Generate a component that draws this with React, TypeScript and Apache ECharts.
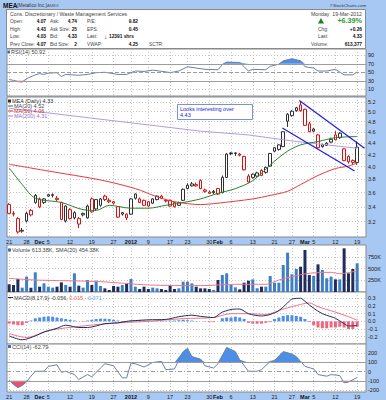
import React, { useEffect, useRef } from 'react';
import * as echarts from 'echarts';

const FONT = '"Liberation Sans", Arial, Helvetica, sans-serif';

// ---- x-axis (trading-day index) labels ----
const labelIdx = [0, 4, 7, 9, 14, 19, 24, 28, 32, 37, 41, 46, 48, 51, 56, 61, 65, 68, 70, 75, 80];
const labelText = ['21', '28', 'Dec', '5', '12', '19', '27', '2012', '9', '17', '23', '30', 'Feb', '6', '13', '21', '27', 'Mar', '5', '12', '19'];
const monthLabels = ['Dec', '2012', 'Feb', 'Mar'];
const gridIdx = [0, 4, 9, 14, 19, 24, 28, 32, 37, 41, 46, 51, 56, 61, 65, 70, 75, 80];

// ---- daily prices (Nov 21 2011 .. Mar 19 2012) ----
const opens = [3.43, 3.31, 3.24, 3.09, 3.21, 3.35, 3.46, 3.51, 3.46, 3.57, 3.57, 3.50, 3.46, 3.21, 3.36, 3.25, 3.17, 3.31, 3.25, 3.51, 3.37, 3.42, 3.55, 3.47, 3.47, 3.40, 3.30, 3.25, 3.30, 3.58, 3.46, 3.49, 3.47, 3.45, 3.50, 3.55, 3.49, 3.49, 3.46, 3.42, 3.49, 3.66, 3.70, 3.70, 3.78, 3.64, 3.61, 3.62, 3.66, 3.60, 3.83, 4.23, 4.23, 4.21, 4.17, 3.85, 3.83, 3.85, 3.94, 3.91, 4.01, 4.26, 4.29, 4.34, 4.81, 4.92, 5.02, 5.14, 5.05, 4.76, 4.66, 4.55, 4.37, 4.40, 4.42, 4.55, 4.50, 4.30, 4.17, 4.10, 4.07];
const highs = [3.45, 3.34, 3.26, 3.12, 3.33, 3.37, 3.58, 3.53, 3.52, 3.58, 3.59, 3.55, 3.47, 3.42, 3.38, 3.34, 3.26, 3.32, 3.43, 3.53, 3.51, 3.52, 3.57, 3.52, 3.48, 3.41, 3.33, 3.31, 3.52, 3.59, 3.53, 3.50, 3.48, 3.52, 3.56, 3.57, 3.51, 3.50, 3.47, 3.47, 3.66, 3.74, 3.76, 3.75, 3.80, 3.66, 3.63, 3.64, 3.67, 3.86, 4.23, 4.24, 4.24, 4.23, 4.18, 3.88, 3.89, 3.92, 3.96, 4.00, 4.23, 4.33, 4.38, 4.62, 4.97, 5.03, 5.10, 5.21, 5.06, 4.80, 4.68, 4.57, 4.39, 4.42, 4.50, 4.62, 4.60, 4.31, 4.19, 4.12, 4.43];
const lows = [3.30, 3.27, 3.05, 3.06, 3.19, 3.27, 3.44, 3.38, 3.44, 3.54, 3.53, 3.48, 3.22, 3.19, 3.23, 3.23, 3.12, 3.27, 3.24, 3.32, 3.35, 3.40, 3.48, 3.45, 3.43, 3.25, 3.28, 3.22, 3.29, 3.50, 3.45, 3.41, 3.40, 3.44, 3.49, 3.51, 3.46, 3.40, 3.39, 3.41, 3.48, 3.65, 3.69, 3.69, 3.65, 3.60, 3.58, 3.58, 3.57, 3.59, 3.82, 4.19, 4.18, 4.17, 3.94, 3.75, 3.81, 3.84, 3.85, 3.89, 4.00, 4.24, 4.27, 4.33, 4.70, 4.90, 5.00, 5.00, 4.72, 4.60, 4.60, 4.31, 4.32, 4.35, 4.40, 4.45, 4.48, 4.09, 4.05, 4.03, 4.03];
const closes = [3.31, 3.30, 3.07, 3.08, 3.31, 3.29, 3.56, 3.40, 3.51, 3.55, 3.56, 3.52, 3.23, 3.41, 3.24, 3.32, 3.24, 3.29, 3.41, 3.33, 3.50, 3.51, 3.50, 3.49, 3.45, 3.26, 3.32, 3.30, 3.51, 3.52, 3.51, 3.42, 3.41, 3.51, 3.55, 3.52, 3.48, 3.41, 3.40, 3.46, 3.65, 3.71, 3.73, 3.72, 3.66, 3.62, 3.59, 3.60, 3.58, 3.83, 4.21, 4.22, 4.22, 4.19, 3.95, 3.76, 3.88, 3.90, 3.86, 3.99, 4.22, 4.32, 4.37, 4.61, 4.95, 5.01, 5.08, 5.02, 4.73, 4.61, 4.62, 4.32, 4.34, 4.36, 4.47, 4.46, 4.58, 4.10, 4.08, 4.07, 4.33];
// daily volume, thousands of shares
const volumes = [164, 150, 278, 93, 328, 93, 420, 114, 185, 114, 93, 114, 206, 150, 114, 399, 135, 93, 256, 150, 242, 128, 78, 43, 128, 114, 150, 185, 278, 114, 64, 114, 64, 93, 78, 64, 43, 150, 64, 78, 221, 221, 185, 114, 78, 78, 64, 43, 256, 363, 399, 150, 100, 57, 199, 242, 270, 78, 114, 114, 342, 199, 199, 577, 840, 377, 491, 541, 897, 363, 342, 591, 470, 292, 328, 270, 270, 933, 399, 491, 613];

// ---- overlays: [day index, value] ----
const ma20 = [[0, 3.98], [3, 3.72], [6, 3.52], [12, 3.46], [17, 3.36], [20, 3.35], [23, 3.42], [28, 3.38], [32, 3.38], [36, 3.42], [41, 3.47], [44, 3.51], [48, 3.59], [52, 3.66], [56, 3.78], [61, 4.09], [64, 4.26], [67, 4.37], [71, 4.43], [75, 4.50], [80, 4.52]];
const ma50 = [[0, 4.04], [9, 3.93], [21, 3.79], [29, 3.66], [34, 3.54], [38, 3.47], [44, 3.43], [48, 3.45], [56, 3.51], [60, 3.56], [64, 3.62], [67, 3.72], [71, 3.86], [75, 3.97], [78, 4.01], [80, 4.06]];
const ma200 = [[0, 5.07], [20, 4.86], [44, 4.62], [55, 4.55], [66, 4.43], [72, 4.38], [80, 4.31]];
const trendUpper = [[66.7, 5.23], [81.7, 4.31]];
const trendLower = [[62.8, 4.68], [79.4, 3.93]];
const volSma = [[0, 292], [6, 256], [21, 221], [32, 150], [44, 136], [52, 164], [59, 164], [62, 256], [65, 328], [69, 400], [74, 420], [76, 390], [80, 454]];
const rsi = [[0, 33], [1, 31], [2, 28], [3, 27], [4, 35], [6, 44], [7, 47], [8, 45], [9, 48], [11, 49], [12, 40], [13, 45], [16, 43], [18, 45], [20, 49], [22, 50], [25, 45], [27, 45], [29, 53], [31, 52], [33, 55], [36, 51], [37, 49], [39, 53], [41, 63], [43, 60], [45, 57], [48, 56], [49, 68], [50, 74], [53, 73], [55, 53], [56, 57], [59, 56], [60, 64], [62, 69], [63, 77], [65, 82], [67, 77], [68, 63], [70, 60], [71, 53], [73, 53], [75, 57], [77, 44], [79, 44], [80, 51]];
const macd = [[0, -0.19], [3, -0.24], [6, -0.19], [8, -0.14], [11, -0.09], [13, -0.05], [16, -0.08], [18, -0.08], [20, -0.06], [22, -0.03], [25, -0.02], [27, 0], [29, 0.01], [32, 0.02], [36, 0.025], [39, 0.06], [42, 0.08], [44, 0.065], [47, 0.05], [49, 0.12], [52, 0.16], [53, 0.16], [55, 0.10], [58, 0.07], [60, 0.09], [62, 0.14], [64, 0.24], [65, 0.29], [67, 0.30], [68, 0.26], [70, 0.17], [72, 0.10], [74, 0.06], [75, 0.04], [77, -0.03], [78, -0.06], [80, -0.056]];
const macdSignal = [[0, -0.16], [4, -0.21], [9, -0.12], [17, -0.06], [25, -0.02], [32, 0], [40, 0.035], [47, 0.05], [51, 0.10], [55, 0.10], [59, 0.09], [63, 0.16], [67, 0.22], [69, 0.24], [71, 0.19], [75, 0.12], [78, 0.06], [80, 0.015]];
const macdHist = [-0.03, -0.04, -0.05, -0.05, -0.02, 0.01, 0.04, 0.05, 0.06, 0.065, 0.06, 0.05, 0.04, 0.03, 0.02, 0.01, 0.0, -0.005, 0.01, 0.02, 0.03, 0.035, 0.035, 0.03, 0.02, 0.01, -0.01, -0.01, 0.01, 0.01, 0.015, 0.01, 0.01, 0.005, 0.01, 0.01, 0.005, 0.01, 0.01, 0.015, 0.02, 0.015, 0.01, 0.005, 0.0, -0.005, -0.01, -0.01, 0.0, 0.04, 0.05, 0.05, 0.06, 0.05, 0.03, -0.02, -0.03, -0.03, -0.03, -0.02, -0.01, 0.03, 0.05, 0.07, 0.08, 0.08, 0.07, 0.06, 0.03, -0.01, -0.05, -0.08, -0.09, -0.09, -0.08, -0.08, -0.07, -0.08, -0.10, -0.10, -0.071];
const cci = [[0, -93], [1, -140], [2, -175], [3, -150], [4, -110], [5, -50], [6, 4], [8, 4], [9, 57], [11, 75], [12, -7], [13, 4], [15, -32], [16, -86], [18, -32], [19, -57], [21, 39], [22, 86], [24, 64], [26, -68], [27, -68], [28, 93], [29, 86], [31, 50], [33, 100], [35, 111], [36, 21], [38, 29], [40, 218], [41, 254], [42, 164], [44, 136], [45, 64], [47, 39], [48, 86], [50, 264], [52, 218], [53, 129], [55, 4], [57, 4], [58, 21], [60, 111], [61, 121], [63, 218], [65, 193], [66, 164], [67, 111], [68, 57], [70, 29], [71, -32], [73, -50], [74, -32], [76, -43], [77, -121], [78, -114], [80, -63]];

// ---- axis ticks ----
const priceTicks = [3.2, 3.4, 3.6, 3.8, 4.0, 4.2, 4.4, 4.6, 4.8, 5.0, 5.2];
const rsiTicks = [10, 30, 50, 70, 90];
const volTicks = [250, 500, 750];
const macdTicks = [-0.2, -0.1, 0, 0.1, 0.2, 0.3];
const cciTicks = [-200, -100, 0, 100, 200];

const FS = 5.5;
const HF = 4.8;
const BLUE_BG = '#a6c8f2';

function buildOption() {
  const ln = Math.log;
  const RED = '#d41414';
  const BLK = '#303030';
  const candles = closes.map((c, i) => {
    const prev = i === 0 ? opens[0] : closes[i - 1];
    const col = c >= prev ? BLK : RED;
    return {
      value: [i, ln(opens[i]), ln(c), ln(lows[i]), ln(highs[i])],
      itemStyle: { color: '#ffffff', color0: col, borderColor: col, borderColor0: col },
    };
  });
  const volBars = volumes.map((v, i) => {
    const prev = i === 0 ? opens[0] : closes[i - 1];
    return { value: [i, v], itemStyle: { color: closes[i] >= prev ? '#3f7fc6' : '#1f2d5e' } };
  });
  const histBars = macdHist.map((h, i) => ({ value: [i, h], itemStyle: { color: h >= 0 ? '#4d8fe6' : '#f0647e' } }));

  const grids = [
    { top: 49, height: 47 },
    { top: 97, height: 140 },
    { top: 245, height: 47 },
    { top: 292, height: 52 },
    { top: 344, height: 48 },
  ];
  const dotted = { show: true, lineStyle: { color: '#c6c6c6', type: [1, 2], width: 1 } };
  const xFormatter = (v: number) => {
    const k = labelIdx.indexOf(Math.round(v));
    if (k < 0) return '';
    const t = labelText[k];
    return monthLabels.includes(t) ? `{b|${t}}` : t;
  };
  const yLabel = (vals: number[], fmt: (v: number) => string) => ({
    show: true, customValues: vals, formatter: fmt, fontSize: FS, color: '#222', margin: 2, fontFamily: FONT,
  });
  const yAxisBase = (k: number, min: number, max: number, vals: number[], fmt: (v: number) => string) => ({
    type: 'value', gridIndex: k, min, max, position: 'right', scale: true,
    axisLine: { show: false }, axisTick: { show: false, customValues: vals },
    splitLine: dotted, axisLabel: yLabel(vals, fmt),
  });

  const line = (xi: number, data: number[][], color: string, width = 1, extra: any = {}) => ({
    type: 'line', xAxisIndex: xi, yAxisIndex: xi, data, symbol: 'none', silent: true,
    lineStyle: { color, width }, itemStyle: { color }, z: 4, ...extra,
  });
  const fill = (xi: number, data: number[][], origin: number, color: string) => ({
    type: 'line', xAxisIndex: xi, yAxisIndex: xi, data, symbol: 'none', silent: true,
    lineStyle: { width: 0, opacity: 0 }, areaStyle: { origin, color, opacity: 1 }, z: 2,
  });
  const hLines = (items: any[]) => ({ silent: true, symbol: 'none', label: { show: false }, data: items });
  const grey = (y: number, type: any = 'solid') => ({ yAxis: y, lineStyle: { color: '#9c9c9c', width: 1, type } });

  const T = (x: number, y: number, text: string, o: any = {}) => ({
    type: 'text', x, y, z: 100, silent: true,
    style: { text, fontSize: FS, fontFamily: FONT, fill: '#333', verticalAlign: 'middle', textVerticalAlign: 'middle', ...o },
  });
  const H = (x: number, y: number, text: string, o: any = {}) => T(x, y, text, { fontSize: HF, fill: '#444', ...o });
  const HR = (x: number, y: number, text: string, o: any = {}) => H(x, y, text, { align: 'right', textAlign: 'right', ...o });
  const R = (x: number, y: number, text: string, o: any = {}) => T(x, y, text, { align: 'right', textAlign: 'right', ...o });
  const B = { fontWeight: 'bold', fill: '#111' };
  const seg = (x: number, y: number, color: string) => ({
    type: 'line', z: 100, silent: true, shape: { x1: x, y1: y, x2: x + 5, y2: y }, style: { stroke: color, lineWidth: 1 },
  });

  const graphics: any[] = [
    { type: 'rect', z: 50, silent: true, shape: { x: 6.5, y: 9.5, width: 359, height: 39 }, style: { fill: '#fff', stroke: '#8a8a8a', lineWidth: 1 } },
    T(3, 5, 'MEA', { fontSize: 6.5, ...B }),
    T(17, 5.3, '(Metalico Inc.)', { fontSize: 4.8, fill: '#333' }),
    T(47, 5.3, 'AMEX', { fontSize: 4.2, fill: '#555' }),
    R(366, 5, '©StockCharts.com', { fontSize: 4.3, fill: '#333' }),
    H(10, 14, 'Cons. Discretionary / Waste Management Services', { fontSize: 5.2 }),
    HR(362, 14, 'Monday  19-Mar-2012', { fontSize: 5.2 }),
    H(10, 21, 'Open:'), HR(46, 21, '4.07', B), H(50, 21, 'Ask:'), HR(77, 21, '4.74', B), H(87, 21, 'P/E:'), HR(138, 21, '9.82', B),
    H(10, 29, 'High:'), HR(46, 29, '4.43', B), H(50, 29, 'Ask Size:'), HR(77, 29, '25', B), H(87, 29, 'EPS:'), HR(138, 29, '0.45', B),
    H(10, 36.5, 'Low:'), HR(46, 36.5, '4.03', B), H(50, 36.5, 'Bid:'), HR(77, 36.5, '4.33', B), H(87, 36.5, 'Last:'),
    H(104, 36.5, '↓', { fontSize: 7, fontWeight: 'bold', fill: '#d01010' }), H(109, 36.5, '12391 shrs', B),
    H(10, 44, 'Prev Close:'), HR(46, 44, '4.07', B), H(50, 44, 'Bid Size:'), HR(77, 44, '2', B), H(87, 44, 'VWAP:'), HR(138, 44, '4.25', B),
    H(149, 44, 'SCTR:'),
    { type: 'polygon', z: 100, silent: true, shape: { points: [[321, 18], [318, 23.5], [324, 23.5]] }, style: { fill: '#1e7d2a' } },
    R(362, 20.5, '+6.39%', { fontSize: 7.2, fontWeight: 'bold', fill: '#2b9a3a' }),
    H(318, 29, 'Chg:'), HR(362, 29, '+0.26', B),
    H(318, 36.5, 'Last:'), HR(362, 36.5, '4.33', B),
    H(311, 44, 'Volume:'), HR(362, 44, '613,377', B),
    // panel titles
    T(11, 52, 'RSI(14) 50.92', { fill: '#444' }),
    { type: 'rect', z: 100, silent: true, shape: { x: 7.5, y: 50.5, width: 2.5, height: 3 }, style: { fill: '#3a6fc0' } },
    T(12, 101, 'MEA (Daily) 4.33', { fill: '#333' }),
    { type: 'rect', z: 100, silent: true, shape: { x: 8, y: 99.5, width: 3, height: 3 }, style: { fill: '#333' } },
    seg(8, 106, '#2f7f2f'), T(14, 106, 'MA(20) 4.52', { fill: '#444' }),
    seg(8, 111, '#e03030'), T(14, 111, 'MA(50) 4.06', { fill: '#c03030' }),
    seg(8, 116, '#a58ae0'), T(14, 116, 'MA(200) 4.31', { fill: '#8a70c8' }),
    T(12, 250, 'Volume 613.38K, SMA(20) 454.38K', { fill: '#444' }),
    { type: 'rect', z: 100, silent: true, shape: { x: 8, y: 248.5, width: 3, height: 3 }, style: { fill: '#3a6fc0' } },
    seg(8, 297.5, '#1f2f5f'),
    {
      type: 'text', x: 14, y: 297.5, z: 100, silent: true,
      style: {
        text: '{a|MACD(8,17,9) -0.056, }{r|0.015, }{c|-0.071}', fontSize: FS, fontFamily: FONT, verticalAlign: 'middle', textVerticalAlign: 'middle',
        rich: { a: { fill: '#444', fontSize: FS, fontFamily: FONT }, r: { fill: '#f06078', fontSize: FS, fontFamily: FONT }, c: { fill: '#7aa4ee', fontSize: FS, fontFamily: FONT } },
      },
    },
    T(12, 346.5, 'CCI(14) -62.79', { fill: '#444' }),
    { type: 'rect', z: 100, silent: true, shape: { x: 8, y: 345, width: 3, height: 3 }, style: { fill: '#3a6fc0' } },
    // annotation
    { type: 'rect', z: 90, silent: true, shape: { x: 177.5, y: 104.5, width: 75, height: 15 }, style: { fill: '#fff', stroke: '#7a92d0', lineWidth: 1 } },
    T(180, 108.7, 'Looks interesting over', { fill: '#1a1ae0' }),
    T(180, 115.3, '4.43', { fill: '#1a1ae0' }),
  ];

  return {
    animation: false,
    backgroundColor: BLUE_BG,
    textStyle: { fontFamily: FONT },
    grid: grids.map((g) => ({ left: 7, right: 20, top: g.top, height: g.height, show: true, backgroundColor: '#ffffff', borderColor: '#8a8a8a', borderWidth: 1 })),
    xAxis: grids.map((_, k) => ({
      type: 'value', gridIndex: k, min: -0.5, max: 82.03,
      axisLine: { show: false }, axisTick: { show: false, customValues: gridIdx },
      splitLine: dotted,
      axisLabel: {
        show: k === 1 || k === 4, customValues: labelIdx, formatter: xFormatter, fontSize: FS, color: '#222', margin: 1.5,
        fontFamily: FONT, hideOverlap: false,
        rich: { b: { fontWeight: 'bold', fontSize: FS, color: '#111', fontFamily: FONT } },
      },
    })),
    yAxis: [
      yAxisBase(0, -5.8, 104.8, rsiTicks, (v) => String(Math.round(v))),
      yAxisBase(1, 1.1011, 1.669, priceTicks.map((p) => ln(p)), (v) => Math.exp(v).toFixed(1)),
      yAxisBase(2, 0, 1004, volTicks, (v) => `${Math.round(v)}K`),
      yAxisBase(3, -0.295, 0.382, macdTicks, (v) => v.toFixed(1)),
      yAxisBase(4, -222, 301, cciTicks, (v) => String(Math.round(v))),
    ],
    series: [
      // RSI
      fill(0, rsi.map(([i, v]) => [i, Math.max(v, 70)]), 70, '#4d8fe6'),
      fill(0, rsi.map(([i, v]) => [i, Math.min(v, 30)]), 30, '#e8506e'),
      line(0, rsi, '#6d7fa8', 1, { markLine: hLines([grey(70), grey(30), grey(50, [4, 2])]) }),
      // price
      {
        type: 'candlestick', xAxisIndex: 1, yAxisIndex: 1, data: candles, barWidth: 3, silent: true,
        encode: { x: 0, y: [1, 2, 3, 4] }, itemStyle: { borderWidth: 1 }, z: 3,
      },
      line(1, ma200.map(([i, v]) => [i, ln(v)]), '#b39be6', 1),
      line(1, ma50.map(([i, v]) => [i, ln(v)]), '#e83a3a', 1, { smooth: 0.3 }),
      line(1, ma20.map(([i, v]) => [i, ln(v)]), '#2f7f2f', 1, { smooth: 0.3 }),
      line(1, trendUpper.map(([i, v]) => [i, ln(v)]), '#1c1ce6', 1.2, { z: 6 }),
      line(1, trendLower.map(([i, v]) => [i, ln(v)]), '#1c1ce6', 1.2, { z: 6 }),
      // volume
      { type: 'bar', xAxisIndex: 2, yAxisIndex: 2, data: volBars, barWidth: 3, silent: true, z: 3 },
      line(2, volSma, '#f07888', 1, { smooth: 0.3 }),
      // MACD
      { type: 'bar', xAxisIndex: 3, yAxisIndex: 3, data: histBars, barWidth: 3, silent: true, z: 3 },
      line(3, macdSignal, '#f07585', 1, { smooth: 0.3 }),
      line(3, macd, '#1f2f5f', 1, { smooth: 0.3 }),
      // CCI
      fill(4, cci.map(([i, v]) => [i, Math.max(v, 100)]), 100, '#4d8fe6'),
      fill(4, cci.map(([i, v]) => [i, Math.min(v, -100)]), -100, '#e8506e'),
      line(4, cci, '#6d7fa8', 1, { markLine: hLines([grey(100), grey(-100), grey(0, [4, 2, 1, 2])]) }),
    ],
    graphic: graphics,
  };
}

export default function App() {
  const ref = useRef<HTMLDivElement>(null);
  useEffect(() => {
    const chart = echarts.init(ref.current!, null, { renderer: 'svg' });
    chart.setOption(buildOption() as any);
    return () => chart.dispose();
  }, []);
  return <div ref={ref} style={{ position: 'absolute', left: 0, top: 0, width: 386, height: 400 }} />;
}
